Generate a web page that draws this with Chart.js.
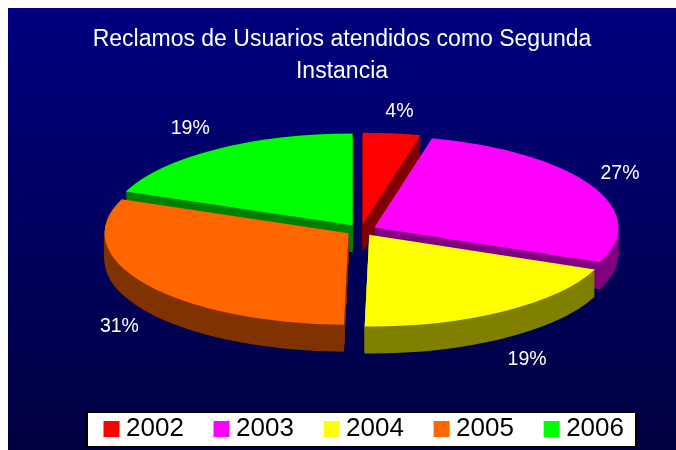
<!DOCTYPE html>
<html lang="en">

<head>
    <meta charset="UTF-8">
    <title>Reclamos de Usuarios</title>
    <style>
        body {
            margin: 0;
            background: #fff;
        }
        canvas {
            display: block;
        }
    </style>
</head>

<body>
    <canvas id="chart" width="676" height="450"></canvas>
    <script src="https://cdn.jsdelivr.net/npm/chart.js"></script>
    <script>
        const years = ["2002", "2003", "2004", "2005", "2006"];
        const shares = [3.8, 27.4, 19.1, 30.7, 19.0];
        const titleLines = ["Reclamos de Usuarios atendidos como Segunda", "Instancia"];
        const topColors = ["#ff0000", "#ff00ff", "#ffff00", "#ff6600", "#00ff00"];
        const wallColors = ["#800000", "#800080", "#808000", "#803300", "#008000"];
        const paintOrder = [4, 0, 1, 3, 2];
        const labelNudges = [[5, -14], [9, -8], [12, 41], [-8, 38], [-13, -14]];

        const pieX = 361, pieY = 230, pieRadius = 244;
        const tilt = 0.376, explode = 15, depth = 27;

        function placeArc(ctx, arc, lift) {
            const mid = (arc.startAngle + arc.endAngle) / 2;
            ctx.translate(pieX, pieY + lift);
            ctx.scale(1, tilt);
            ctx.translate(Math.cos(mid) * explode, Math.sin(mid) * explode);
            ctx.translate(-arc.x, -arc.y);
        }

        const pie3d = {
            id: "pie3d",
            afterLayout(chart) {
                // the legend sits under the pie, not in the middle of the page
                chart.legend.left += 25;
                chart.legend.right += 25;
                chart.legend.top += 10;
                chart.legend.bottom += 10;
            },
            beforeDraw(chart) {
                const ctx = chart.ctx;
                const grad = ctx.createLinearGradient(0, 8, 0, 450);
                grad.addColorStop(0, "#000080");
                grad.addColorStop(1, "#000040");
                ctx.fillStyle = grad;
                ctx.fillRect(8, 8, 668, 442);
                ctx.fillStyle = "#000";
                ctx.fillRect(86, 411, 551, 37);
                ctx.fillStyle = "#fff";
                ctx.fillRect(88, 413, 547, 33);
            },
            beforeDatasetDraw(chart, args) {
                const ctx = chart.ctx;
                const arcs = args.meta.data;
                paintOrder.forEach(function (i) {
                    const arc = arcs[i];
                    const topOptions = arc.options;
                    arc.options = Object.assign({}, topOptions, { backgroundColor: wallColors[i] });
                    for (let lift = depth; lift > 0; lift--) {
                        ctx.save();
                        placeArc(ctx, arc, lift);
                        arc.draw(ctx);
                        ctx.restore();
                    }
                    arc.options = topOptions;
                    ctx.save();
                    placeArc(ctx, arc, 0);
                    arc.draw(ctx);
                    ctx.restore();
                });
                return false;
            },
            afterDatasetsDraw(chart) {
                const ctx = chart.ctx;
                const arcs = chart.getDatasetMeta(0).data;
                ctx.save();
                ctx.fillStyle = "#fff";
                ctx.font = "19.5px 'Liberation Sans'";
                ctx.textAlign = "center";
                ctx.textBaseline = "middle";
                shares.forEach(function (value, i) {
                    const mid = (arcs[i].startAngle + arcs[i].endAngle) / 2;
                    const x = pieX + Math.cos(mid) * pieRadius * 1.15 + labelNudges[i][0];
                    const y = pieY + Math.sin(mid) * pieRadius * tilt * 1.15 + labelNudges[i][1];
                    ctx.fillText(Math.round(value) + "%", x, y);
                });
                ctx.restore();
            }
        };

        const chart = new Chart(document.getElementById("chart"), {
            type: "pie",
            data: {
                labels: years,
                datasets: [{
                    data: shares,
                    backgroundColor: topColors,
                    borderWidth: 0
                }]
            },
            options: {
                responsive: false,
                animation: false,
                radius: pieRadius,
                layout: { padding: { left: 8, bottom: 8 } },
                plugins: {
                    title: {
                        display: true,
                        text: titleLines,
                        color: "#fff",
                        font: { family: "'Liberation Sans'", size: 23, weight: "normal", lineHeight: 1.39 },
                        padding: { top: 24, bottom: 0 }
                    },
                    legend: {
                        position: "bottom",
                        labels: {
                            color: "#000",
                            font: { family: "'Liberation Sans'", size: 26 },
                            usePointStyle: true,
                            pointStyle: "rect",
                            boxHeight: 16,
                            boxWidth: 3,
                            padding: 36.2
                        }
                    },
                    tooltip: { enabled: false }
                }
            },
            plugins: [pie3d]
        });
    </script>
</body>

</html>
